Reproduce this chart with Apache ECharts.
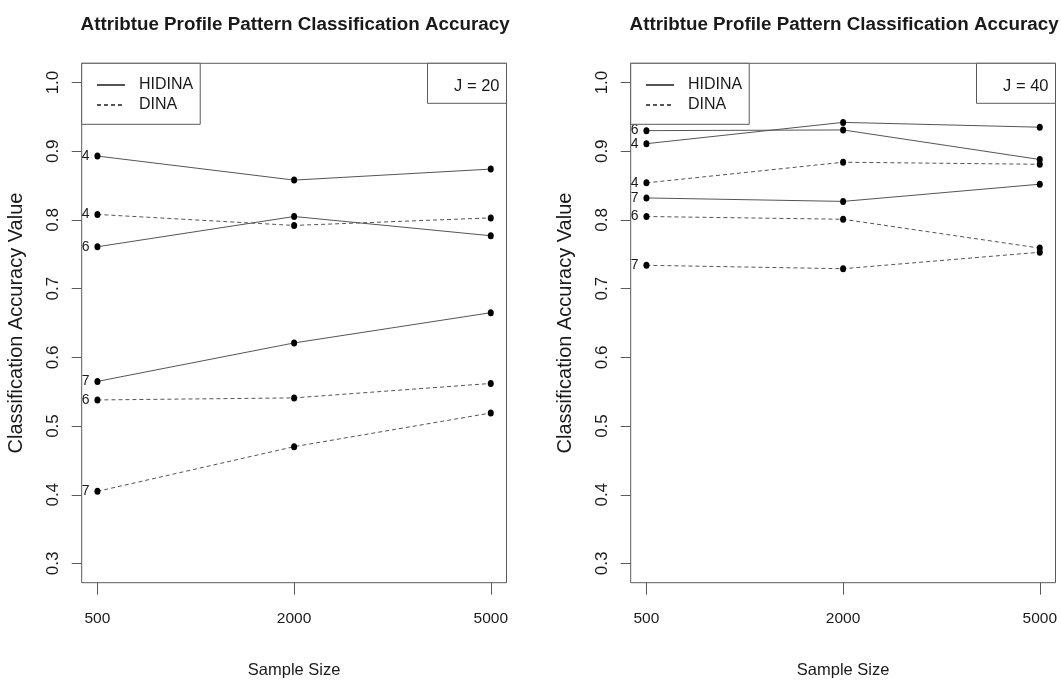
<!DOCTYPE html>
<html>
<head>
  <meta charset="utf-8">
  <title>Attribute profile pattern classification accuracy</title>
  <script src="https://cdn.jsdelivr.net/npm/echarts@6/dist/echarts.min.js"></script>
</head>
<body style="margin:0;background:#fff;">
  <div id="main" style="width:1061px;height:685px;"></div>
  <script type="text/javascript">
    // x positions 1..3 stand for the sample sizes
    var sampleSizes = ['500', '2000', '5000'];
    var attrCounts = ['4', '6', '7'];
    var yTicks = [0.3, 0.4, 0.5, 0.6, 0.7, 0.8, 0.9, 1.0];
    var panelTitle = 'Attribtue Profile Pattern Classification Accuracy';
    var panelLabels = ['J = 20', 'J = 40'];

    // rows follow attrCounts (4, 6, 7)
    var hidinaJ20 = [[0.893, 0.858, 0.874], [0.761, 0.805, 0.777], [0.565, 0.621, 0.665]];
    var dinaJ20 = [[0.808, 0.792, 0.803], [0.538, 0.541, 0.562], [0.405, 0.470, 0.519]];
    var hidinaJ40 = [[0.911, 0.942, 0.935], [0.930, 0.931, 0.888], [0.832, 0.827, 0.852]];
    var dinaJ40 = [[0.854, 0.884, 0.881], [0.805, 0.801, 0.759], [0.734, 0.729, 0.753]];

    var FONT = "'Liberation Sans', Arial, sans-serif";
    var INK = '#1a1a1a';
    var BOX = '#5a5a5a';

    var panels = [
      {left: 81.7, hidina: hidinaJ20, dina: dinaJ20},
      {left: 630.7, hidina: hidinaJ40, dina: dinaJ40}
    ];
    var gridTop = 63.3, gridW = 424.8, gridH = 519.4;

    var myChart = echarts.init(document.getElementById('main'), null, {renderer: 'canvas'});

    var grids = [], xAxes = [], yAxes = [], titles = [], legends = [], series = [], graphics = [];

    panels.forEach(function (p, pi) {
      grids.push({left: p.left, top: gridTop, width: gridW, height: gridH, show: true,
        borderColor: BOX, borderWidth: 1, backgroundColor: 'transparent', outerBoundsMode: 'none'});

      xAxes.push({
        type: 'value', gridIndex: pi, min: 0.92, max: 3.08,
        axisLine: {show: false}, splitLine: {show: false},
        axisTick: {customValues: [1, 2, 3], length: 12, lineStyle: {color: BOX}},
        axisLabel: {customValues: [1, 2, 3], margin: 28, fontSize: 15.5, fontFamily: FONT, color: INK,
          formatter: function (v) { return sampleSizes[Math.round(v) - 1]; }},
        name: 'Sample Size', nameLocation: 'middle', nameGap: 79,
        nameTextStyle: {fontSize: 16.5, fontFamily: FONT, color: INK}
      });

      yAxes.push({
        type: 'value', gridIndex: pi, min: 0.272, max: 1.028,
        axisLine: {show: false}, splitLine: {show: false},
        axisTick: {customValues: yTicks, length: 10, lineStyle: {color: BOX}},
        axisLabel: {customValues: yTicks, rotate: 90, margin: 20, fontSize: 17, fontFamily: FONT, color: INK,
          formatter: function (v) { return v.toFixed(1); }},
        name: 'Classification Accuracy Value', nameLocation: 'middle', nameGap: 55,
        nameTextStyle: {fontSize: 20, fontFamily: FONT, color: INK}
      });

      titles.push({
        text: panelTitle, left: p.left + gridW / 2 - 4, top: 10, textAlign: 'center',
        textStyle: {fontSize: 18.8, fontWeight: 'bold', fontFamily: FONT, color: INK}
      });

      legends.push({
        data: ['HIDINA', 'DINA'], orient: 'vertical', align: 'left',
        left: p.left, top: gridTop, selectedMode: false,
        itemWidth: 28, itemHeight: 14, itemGap: 0,
        padding: [11.7, 7, 9.3, 14.3],
        borderColor: BOX, borderWidth: 1, backgroundColor: '#fff',
        itemStyle: {opacity: 0},
        textStyle: {fontSize: 16, lineHeight: 20, fontFamily: FONT, color: INK, padding: [0, 0, 0, 9]}
      });

      // small "J = .." box in the top-right corner
      var right = p.left + gridW;
      graphics.push({type: 'rect', shape: {x: right - 79, y: gridTop, width: 79, height: 40},
        style: {fill: '#fff', stroke: BOX, lineWidth: 1}, z: 10});
      graphics.push({type: 'text', x: right - 7, y: gridTop + 23, z: 11,
        style: {text: panelLabels[pi], font: '16.5px ' + FONT, fill: INK, align: 'right', verticalAlign: 'middle'}});

      [['HIDINA', p.hidina, 'solid'], ['DINA', p.dina, [4, 3]]].forEach(function (m) {
        m[1].forEach(function (row, ki) {
          series.push({
            type: 'line', name: m[0], xAxisIndex: pi, yAxisIndex: pi,
            symbol: 'circle', symbolSize: [6, 7], silent: true, animation: false,
            itemStyle: {color: '#000'},
            lineStyle: {color: '#555', width: 1, type: m[2]},
            label: {show: false, position: 'left', distance: 5, fontSize: 14, fontFamily: FONT, color: INK,
              formatter: attrCounts[ki]},
            data: row.map(function (v, i) {
              var d = {value: [i + 1, v]};
              if (i === 0) d.label = {show: true};
              return d;
            })
          });
        });
      });
    });

    var option = {
      backgroundColor: '#fff',
      animation: false,
      title: titles,
      legend: legends,
      grid: grids,
      xAxis: xAxes,
      yAxis: yAxes,
      series: series,
      graphic: graphics
    };
    myChart.setOption(option);
  </script>
</body>
</html>
